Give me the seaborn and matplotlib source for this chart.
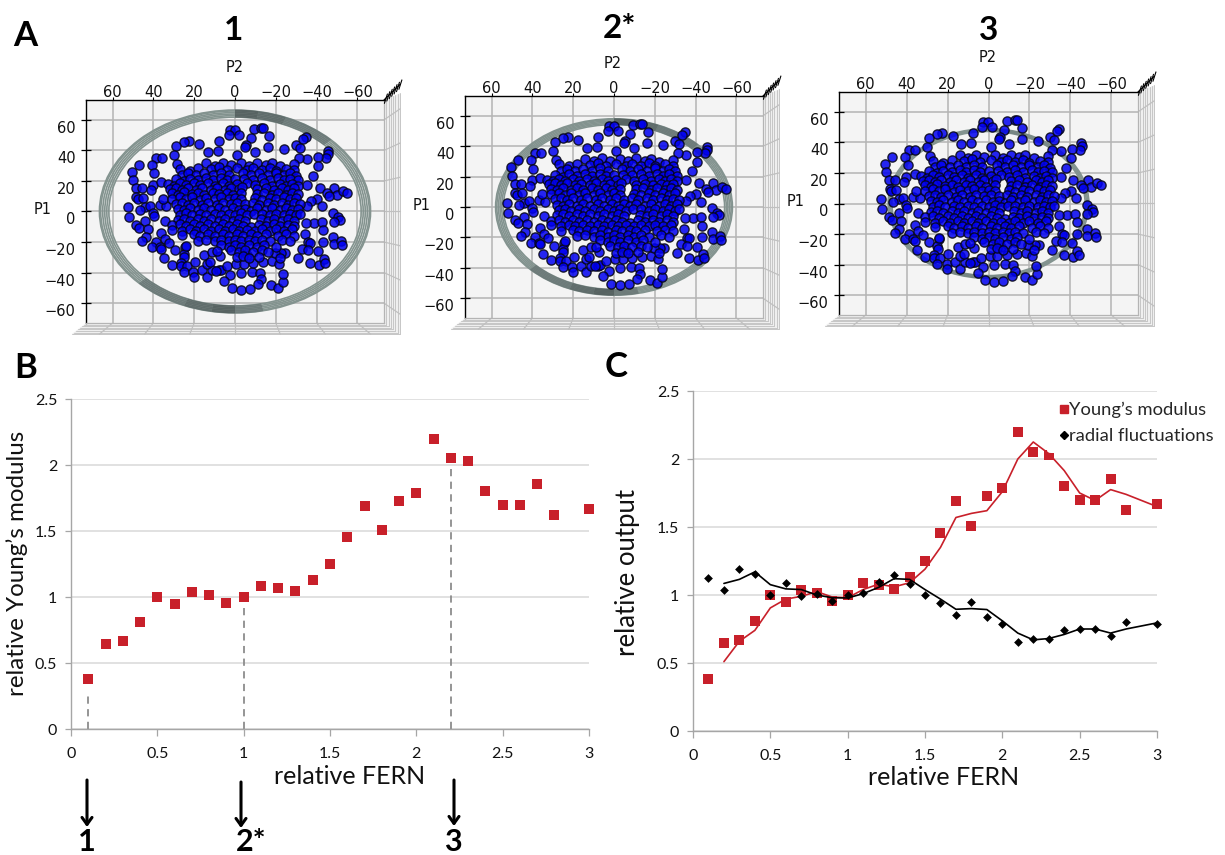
import numpy as np
import pandas as pd
import matplotlib
matplotlib.use("Agg")
import matplotlib.pyplot as plt
from matplotlib.patches import Wedge, Circle, Polygon
from matplotlib.lines import Line2D
from matplotlib.transforms import ScaledTranslation
import seaborn as sns

# ---------- data ----------
outer_points = [
(2.6,53.5),(0.2,53.5),(3.1,49.8),(-1.8,49.8),(-9.1,54.1),(-12.9,54.6),(-13.7,54.6),(-7.8,48),(-16.5,49.3),
(7.7,46.3),(17.5,43.9),(22.7,46.1),(25.1,45.4),(28.9,42.8),(-5.4,43.7),(-5.1,42.1),(-16.2,42.4),(-24.1,40.8),
(-30,43.7),(-34.6,49.1),(-33.3,47.4),(-32,41.7),(-45.4,39.3),(-45.8,37.8),(-44.7,35.2),(-40.9,36),(-35.2,34.5),
(-31.2,35.2),(13.4,38.9),(8.5,39.3),(30,37.1),(38.7,35.2),(35.7,35.2),(28.4,31.2),(47.1,30.6),(50.6,26),
(40.6,30.6),(39.5,24.9),(50.1,20.7),(40.3,17.5),(36.1,19.2),(-1,37.1),(-10,38.9),(-40.5,29.7),(-38,23.4),
(-35.2,17.5),(-41.4,15.7),(-48.6,15.7),(-45,12),(-49.9,11.1),(-52.9,13.3),(-54.8,12),(-46.2,10),(-40.1,8.3),
(-37.4,7.2),(-42.7,3.3),(-35.2,3.9),(-48,-0.9),(-50.6,-3.7),(-51.2,-5.5),(-48.3,-6.6),(-38.5,-7.4),(-42.4,-6.6),
(-34.6,-7.4),(-43.1,-12.4),(-48,-16.4),(-48.3,-21),(-51.9,-19.2),(-52.5,-21.8),(-43.1,-19.9),(-34.4,-14.6),
(-36,-20.1),(-36.9,-20.7),(-32.8,-24.5),(-35.7,-25.5),(-40.6,-26),(-30.8,-30.3),(-36.9,-33.8),(-41.1,-34.9),
(-43.4,-31),(-44.2,-33.6),(52.4,2.8),(52,-3.7),(48.6,15.1),(45.7,15.1),(41.1,13.8),(48.3,9.4),(47.6,7.9),
(45.2,9),(43.9,2.8),(46.5,1.3),(41.8,3.9),(36.7,4.4),(33.6,3.5),(35.2,8.3),(40.1,-0.9),(39.8,-3.1),(34.4,-6.1),
(43.9,-6.3),(48.5,-8.7),(47.1,-10.7),(42.6,-11.4),(43.6,-16.4),(45.8,-19),(38.7,-19.7),(36.1,-13.8),(34.3,-17.7),
(32.1,-20.5),(40.9,-23.4),(36.9,-23.4),(36.1,-24.5),(29.2,-25.5),(34.9,-30.6),(31,-34.9),(24.3,-23.4),(25.1,-27.7),
(24.8,-29.9),(26.4,-33.6),(26.4,-35.8),(23.7,-35.4),(19.7,-33),(25,-39.5),(20.4,-39.5),(20.1,-43),(16.2,-38.6),
(13.7,-42.6),(11.3,-38.6),(7.8,-38.6),(6.7,-38.2),(9.1,-39.1),(3.9,-35.4),(2.6,-41.9),(5.2,-45.2),(1.5,-50.4),
(-2.9,-51.3),(-7.2,-50.9),(-2.9,-40.4),(-8.3,-39.7),(-12.1,-40.4),(-12.7,-44.1),(-11.3,-47.4),(-17.8,-47.8),
(-21,-49.8),(-23.5,-46.3),(-23.3,-40.8),(15,-28.2),(11.3,-26.6),(7.2,-29.3),(13.7,-34.3),(12.1,-33.2),(-0.7,-34.3),
(-4.2,-34.3),(-8.8,-33.6),(-13.7,-32.8),(-18.3,-32.5),(-21.4,-34.3),(-24.6,-27.1),(-22.5,-27.1),(-19.4,-27.1),(-5.9,-28.2),
]
core_points = [
(14,31.5),(10,30),(6,32),(2,30.5),(-3,31.5),(-7,30),(-11,32),(-15,30.5),(-18,31.5),(-22,29.5),(-29,31),
(27,28),(22,26.8),(18,28.6),(12,27.5),(8,29),(4,27),(-1,28.5),(-6,27),(-9,28.5),(-13,27.2),(-17,28.8),(-20,26.8),(-25,28),(-29,27),
(26,24),(23,25.2),(19,23.6),(15,25),(11,24),(7,25.5),(3,24),(-4,25),(-8,23.8),(-12,25.2),(-16,24),(-20,25.4),(-24,24),(-27,25),(-30,23.5),
(29,21),(25,20),(22,21.6),(18,20.4),(14,22),(11,20.6),(7,21.8),(4,20.4),(0,21.2),(-4.5,21),(-9,20.8),(-13,21.8),(-17,20.5),(-21,21.8),(-24,20.5),(-27,21.6),(-31,20.4),
(33,18),(30,17),(27,18.6),(24,17.4),(20,18.6),(17,17.2),(13,18.4),(10,17),(6,18.4),(3,17),(-1,18),(-6,18.4),(-10,17.4),(-14,18.4),(-18,17),(-22,18.2),(-25,17),(-28,18.2),(-31,17),
(32,14.8),(29,15.6),(26,14.4),(23,15.6),(19,14.2),(16,15.4),(12,14.4),(9,15.6),(5,14.2),(2,15.4),(-2,14.6),(-3.5,16),(-11,14.6),(-15,15.4),(-19,14.2),(-23,15.4),(-26,14.2),(-29,15.2),
(31,12),(28,11),(25,12.6),(21,11.2),(18,12.4),(15,11),(11,12.4),(8,11.2),(4,12.2),(1,11),(-3,12),(-11,11.6),(-14,12.4),(-18,11),(-21,12.2),(-25,11),(-28,12.2),(-31,11.2),
(31,8.5),(27,9.2),(24,8),(21,9.2),(17,7.8),(14,9),(10,8),(7,9.2),(3,8),(0,9),(-3,8),(-10,8.8),(-13,7.8),(-17,9),(-20,8),(-24,9.2),(-27,8),(-30,9),
(29,5),(26,5.8),(23,4.4),(20,5.6),(16,4.4),(13,5.6),(9,4.4),(6,5.6),(2,4.6),(-1,5.6),(-5,4.6),(-9,5.6),(-12,4.4),(-16,5.6),(-19,4.4),(-23,5.6),(-26,4.4),(-29,5.4),(-32,4.6),
(28,1.5),(25,0.8),(22,2),(18,0.8),(15,2),(12,0.8),(8,2.2),(5,0.8),(1,2),(-2,0.8),(-5,1.8),(-8,0.6),(-11,2),(-15,0.8),(-18,2),(-22,0.8),(-25,2),(-28,0.8),(-31,1.8),
(27,-2),(24,-1.2),(21,-2.6),(17,-1.4),(14,-2.6),(10,-1.4),(7,-2.6),(3,-1.4),(0,-2.4),(-3,-1.2),(-6,-2.6),(-9.5,-1.6),(-13,-1.6),(-17,-2.6),(-20,-1.4),(-24,-2.6),(-27,-1.4),(-30,-2.6),(-32,-1.4),
(28,-5.5),(25,-4.8),(22,-6),(18,-4.8),(15,-6),(12,-4.8),(8,-6.2),(5,-4.8),(1,-6),(-2,-4.8),(-5,-6),(-12.5,-5),(-16,-6),(-19,-4.8),(-23,-6),(-26,-4.8),(-29,-6),
(31,-9),(27,-8.4),(24,-9.6),(20,-8.4),(17,-9.6),(13,-8.4),(10,-9.6),(6,-8.4),(3,-9.6),(-1,-8.4),(-4,-9.6),(-8,-10.4),(-12,-8.6),(-15,-9.6),(-19,-8.4),(-22,-9.6),(-26,-8.6),(-29,-9.6),
(31,-12),(26,-12.6),(22,-11.6),(19,-12.8),(15,-11.6),(12,-12.8),(8,-11.6),(5,-12.8),(1,-11.6),(-2,-12.8),(-6,-11.8),(-10,-12.8),(-13,-11.6),(-17,-12.8),(-20,-11.6),(-24,-12.8),(-28,-11.6),
(26,-15.5),(20,-15),(17,-16),(13,-15),(10,-16),(6,-15),(3,-16.2),(-1,-15),(-4,-16),(-8,-15),(-11,-16),(-15,-15),(-21,-16),(-25,-15),(-29,-16),
(18,-19),(14,-18.4),(10,-19.6),(7,-18.4),(3,-19.6),(0,-18.4),(-3,-19.6),(-7,-18.4),(-10,-19.6),(-13,-18.6),(-17,-19.6),(-23,-18.6),(-27,-19.6),
(24,-22.5),(7,-22),(3,-23),(0,-22),(-3,-23),(-7,-22),(-11,-23),(-14,-22),(-20,-23),
(9,-26),(2,-25.4),(-2,-26.4),(-5,-25.4),(-9,-26.4),(-13,-25.4),(-16,-26.4),
(-1,-30),(-4,-29.4),(-7,-30.4),(-12,-29.6),(-22,-30.4),
]
ring_radii_1 = [61.8, 62.8, 63.8, 64.8, 65.8, 66.4]
ring_radii_2 = [54.2, 55.0, 55.8, 56.6, 57.4, 58.0]
ring_radii_3 = [47.2, 47.8, 48.4, 49.0]
ring_radii = [ring_radii_1, ring_radii_2, ring_radii_3]
panel_titles = ["1", "2*", "3"]
p_ticks = [60, 40, 20, 0, -20, -40, -60]

fern = [0.1,0.2,0.3,0.4,0.5,0.6,0.7,0.8,0.9,1.0,1.1,1.2,1.3,1.4,1.5,1.6,1.7,1.8,1.9,2.0,2.1,2.2,2.3,2.4,2.5,2.6,2.7,2.8,3.0]
young = [0.38,0.645,0.67,0.81,1.0,0.945,1.035,1.015,0.955,1.0,1.085,1.07,1.045,1.13,1.25,1.455,1.69,1.505,1.73,1.79,2.2,2.05,2.03,1.8,1.695,1.695,1.855,1.625,1.67]
radial = [1.127,1.04,1.19,1.152,1.0,1.09,0.99,1.01,0.955,1.0,1.017,1.095,1.15,1.08,1.0,0.94,0.85,0.95,0.835,0.79,0.655,0.68,0.68,0.745,0.75,0.75,0.695,0.805,0.785]
fern_line = fern[1:]
young_line = [0.51,0.66,0.74,0.905,0.97,0.99,1.025,0.985,0.98,1.04,1.08,1.06,1.09,1.19,1.35,1.57,1.6,1.62,1.76,2.0,2.125,2.04,1.915,1.75,1.695,1.775,1.74,1.65]
radial_line = [1.085,1.115,1.17,1.076,1.045,1.04,1.0,0.98,0.978,1.01,1.056,1.12,1.115,1.04,0.97,0.895,0.9,0.893,0.81,0.72,0.67,0.68,0.71,0.75,0.75,0.72,0.75,0.795]
drop_x = [0.1, 1.0, 2.2]
drop_top = [0.28, 0.93, 2.0]
val_ticks = [0, 0.5, 1, 1.5, 2, 2.5]
val_labels = ["0", "0.5", "1", "1.5", "2", "2.5"]
x_ticks = [0, 0.5, 1, 1.5, 2, 2.5, 3]
x_labels = ["0", "0.5", "1", "1.5", "2", "2.5", "3"]

RED = "#c8202a"
W, H = 1225, 855
sns.set_theme(style="white")
plt.rcParams["font.family"] = ["Lato", "DejaVu Sans"]
fig = plt.figure(figsize=(W / 100, H / 100), dpi=100)


def add_axes_px(l, t, r, b):
    return fig.add_axes([l / W, 1 - b / H, (r - l) / W, (b - t) / H])


def ftext(x, y, s, **kw):
    kw.setdefault("ha", "center")
    kw.setdefault("va", "center")
    fig.text(x / W, 1 - y / H, s, **kw)


points = pd.DataFrame(outer_points + core_points, columns=["P2", "P1"])
boxes = [(86, 100, 384, 323), (465, 96, 763, 318), (839, 92, 1138, 315)]
p2_pos = [(235, 67), (613, 63), (988, 58)]
p1_pos = [(43, 210), (422, 205), (796, 202)]
title_pos = [(234, 30), (620, 28), (989, 30)]

for i, box in enumerate(boxes):
    ax = add_axes_px(*box)
    ax.set_facecolor("#f4f4f4")
    ax.set_xlim(73, -73)
    ax.set_ylim(-73, 73)
    ax.set_axisbelow(True)
    ax.grid(True, color="#b4b4b4", lw=1.1)
    tr = ax.transAxes
    # walls of the 3-D box
    wall = Polygon([(1, 0), (1.054, -0.05), (1.054, 1.03), (1, 1)], closed=True, transform=tr,
                   facecolor="#efefef", edgecolor="none", clip_on=False, zorder=0)
    floor = Polygon([(0, 0), (-0.048, -0.05), (1.054, -0.05), (1, 0)], closed=True, transform=tr,
                    facecolor="#efefef", edgecolor="none", clip_on=False, zorder=0)
    ax.add_patch(wall)
    ax.add_patch(floor)
    for f in np.linspace(0, 1, 8):
        ax.plot([1 + 0.054 * f] * 2, [0 - 0.05 * f, 1 + 0.03 * f], transform=tr, color="#c6c6c6",
                lw=0.7, clip_on=False, zorder=0.5)
        ax.plot([0 - 0.048 * f, 1 + 0.054 * f], [-0.05 * f] * 2, transform=tr, color="#c6c6c6",
                lw=0.7, clip_on=False, zorder=0.5)
    for t in p_ticks:
        xf = (73 - t) / 146
        yf = (t + 73) / 146
        ax.plot([1, 1.054], [yf, yf + (yf - 0.5) * 0.12], transform=tr, color="#c0c0c0", lw=0.9,
                clip_on=False, zorder=0.6)
        ax.plot([xf, xf + (xf - 0.5) * 0.107], [0, -0.05], transform=tr, color="#c0c0c0", lw=0.9,
                clip_on=False, zorder=0.6)
    ax.plot([1, 1.054], [1, 1.07], transform=tr, color="black", lw=0.9, clip_on=False, zorder=3)
    for f in np.linspace(0.1, 1, 7):
        x0, y0 = 1 + 0.054 * f, 1 + 0.07 * f
        ax.plot([x0 - 0.004, x0 + 0.006], [y0 - 0.022, y0 + 0.02], transform=tr, color="black", lw=0.8,
                clip_on=False, zorder=3)
    # ring
    radii = ring_radii[i]
    for r in radii:
        ax.add_patch(Circle((0, 0), r, fill=False, edgecolor="#83938f", lw=1.2, zorder=1))
    rout, rin = radii[-1] + 0.3, radii[0] - 0.3
    for t1, t2, col in [(90, 100, "#3a4444"), (100, 112, "#4a5555"), (112, 135, "#5f6c6c"),
                        (270, 280, "#3a4444"), (280, 292, "#4a5555"), (292, 315, "#5f6c6c"),
                        (258, 270, "#606c6c")]:
        ax.add_patch(Wedge((0, 0), rout, t1, t2, width=rout - rin, facecolor=col, edgecolor="none",
                           alpha=0.6 if i < 2 else 0.2, zorder=1.2))
    sns.scatterplot(data=points, x="P2", y="P1", ax=ax, s=44, color="#0000f0", edgecolor="#050514",
                    linewidth=1.0, alpha=0.85, zorder=2, clip_on=False, legend=False)
    ax.set_xlabel("")
    ax.set_ylabel("")
    # ticks
    ax.set_xticks(p_ticks)
    ax.set_yticks(p_ticks)
    ax.set_xticklabels([str(t).replace("-", "\u2212") for t in p_ticks], family="DejaVu Sans", fontsize=10.5,
                       color="#111111")
    ax.set_yticklabels([str(t).replace("-", "\u2212") for t in p_ticks], family="DejaVu Sans", fontsize=10.5,
                       color="#111111")
    ax.xaxis.set_ticks_position("top")
    ax.tick_params(axis="x", length=2, width=0.8, direction="out", pad=-2, color="black", top=True, bottom=False)
    ax.tick_params(axis="y", length=7, width=0.9, direction="inout", pad=4, color="black", left=True)
    off = ScaledTranslation(0, -5 / 72, fig.dpi_scale_trans)
    for lab in ax.get_yticklabels():
        lab.set_transform(lab.get_transform() + off)
    for side in ["left", "top"]:
        ax.spines[side].set_color("black")
        ax.spines[side].set_linewidth(1.0)
    for side in ["right", "bottom"]:
        ax.spines[side].set_color("#b4b4b4")
        ax.spines[side].set_linewidth(0.9)
    ftext(*p2_pos[i], "P2", family="DejaVu Sans", fontsize=10.5, color="#111111")
    ftext(*p1_pos[i], "P1", family="DejaVu Sans", fontsize=10.5, color="#111111")
    ftext(*title_pos[i], panel_titles[i], fontsize=24, fontweight="bold", color="black")


def style_chart(ax):
    ax.set_xlim(0, 3)
    ax.set_ylim(0, 2.5)
    ax.set_xticks(x_ticks)
    ax.set_xticklabels(x_labels, fontsize=11.5, color="#111111")
    ax.set_yticks(val_ticks)
    ax.set_yticklabels(val_labels, fontsize=11.5, color="#111111")
    ax.set_axisbelow(True)
    ax.grid(True, axis="y", color="#dcdcdc", lw=1.2)
    ax.grid(False, axis="x")
    for side in ["top", "right"]:
        ax.spines[side].set_visible(False)
    for side in ["left", "bottom"]:
        ax.spines[side].set_color("#a6a6a6")
        ax.spines[side].set_linewidth(1.0)
    ax.tick_params(axis="x", length=5, width=0.9, color="#a6a6a6", bottom=True, pad=8)
    ax.tick_params(axis="y", length=4, width=0.9, color="#a6a6a6", left=True, pad=6)


# ---------- panel B ----------
axb = add_axes_px(71, 399, 589, 729)
sns.scatterplot(x=fern, y=young, ax=axb, marker="s", s=44, color=RED, edgecolor=RED, linewidth=0,
                clip_on=False, zorder=3, legend=False)
for xd, yd in zip(drop_x, drop_top):
    axb.plot([xd, xd], [0, yd], color="#8c8c8c", lw=1.3, ls=(0, (4, 3)), zorder=2)
style_chart(axb)
axb.set_xlabel("relative FERN", fontsize=18, color="#111111")
axb.xaxis.set_label_coords((350 - 71) / 518, (729 - 765) / 330)
axb.set_ylabel("relative Young\u2019s modulus", fontsize=17.4, color="#111111")
axb.yaxis.set_label_coords((28 - 71) / 518, (729 - 563) / 330)

# ---------- panel C ----------
axc = add_axes_px(693, 391, 1157, 731)
sns.scatterplot(x=fern, y=young, ax=axc, marker="s", s=44, color=RED, edgecolor=RED, linewidth=0,
                clip_on=False, zorder=3, legend=False)
sns.scatterplot(x=fern, y=radial, ax=axc, marker="D", s=20, color="black", edgecolor="black", linewidth=0,
                clip_on=False, zorder=4, legend=False)
sns.lineplot(x=fern_line, y=young_line, ax=axc, color=RED, lw=1.2, errorbar=None, zorder=3.5, legend=False)
sns.lineplot(x=fern_line, y=radial_line, ax=axc, color="black", lw=1.2, errorbar=None, zorder=4.5, legend=False)
style_chart(axc)
axc.set_xlabel("relative FERN", fontsize=18, color="#111111")
axc.xaxis.set_label_coords((944 - 693) / 464, (731 - 766) / 340)
axc.set_ylabel("relative output", fontsize=18.5, color="#111111")
axc.yaxis.set_label_coords((640 - 693) / 464, (731 - 572) / 340)
handles = [Line2D([], [], ls="", marker="s", ms=5.5, color=RED, label="Young\u2019s modulus"),
           Line2D([], [], ls="", marker="D", ms=4, color="black", label="radial fluctuations")]
leg = axc.legend(handles=handles, loc="upper left", bbox_to_anchor=((1047 - 693) / 464, 0.995),
                 bbox_transform=axc.transAxes, frameon=True, framealpha=1, facecolor="white", edgecolor="none",
                 fontsize=13.2, handletextpad=-0.2, labelspacing=0.55, borderaxespad=0, borderpad=0.5,
                 handlelength=0.9)
leg.set_clip_on(False)

# ---------- letters, arrows ----------
ftext(25, 36, "A", fontsize=25, fontweight="bold", color="black")
ftext(26, 368, "B", fontsize=25, fontweight="bold", color="black")
ftext(616, 367, "C", fontsize=25, fontweight="bold", color="black")
for xa, y0, y1, lab, xl in [(87, 780, 827, "1", 87), (241, 782, 828, "2*", 251), (454, 780, 826, "3", 453)]:
    fig.add_artist(matplotlib.patches.FancyArrowPatch(
        (xa / W, 1 - y0 / H), (xa / W, 1 - y1 / H), transform=fig.transFigure,
        arrowstyle="->,head_length=5,head_width=3.6", lw=2.2, color="black", shrinkA=0, shrinkB=0))
    ftext(xl, 851, lab, fontsize=22, fontweight="bold", color="black", va="baseline")

fig.savefig("out.png", dpi=100, facecolor="white")
